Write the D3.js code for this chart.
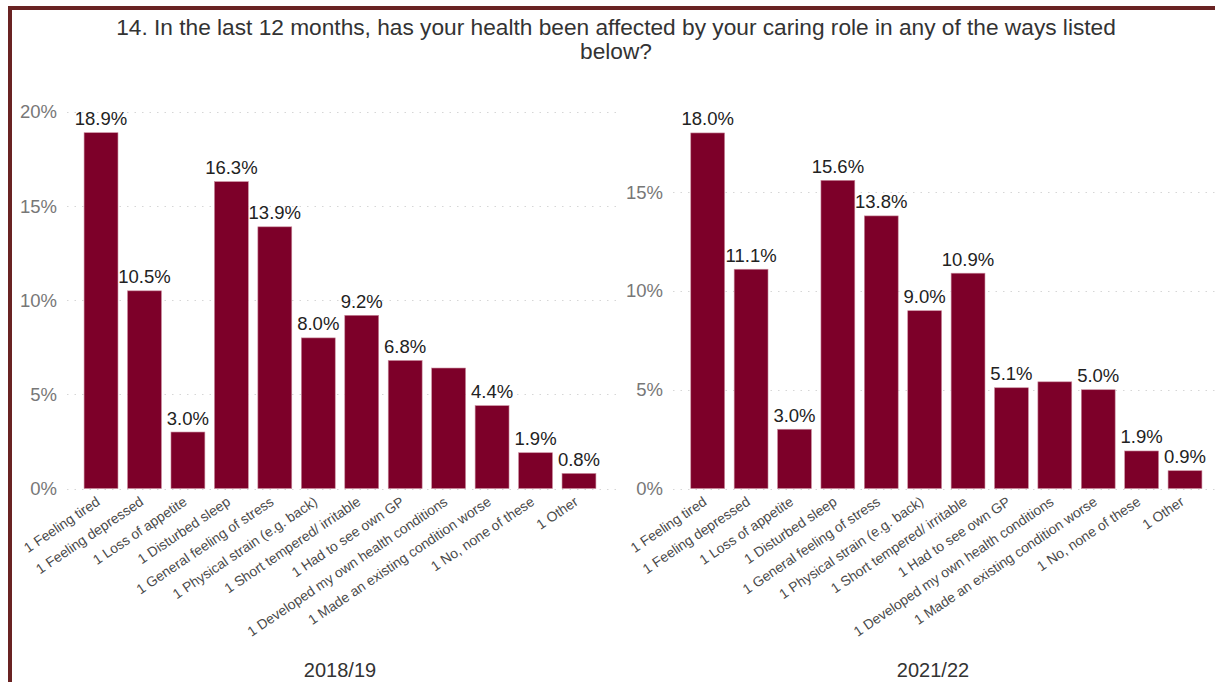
<!DOCTYPE html>
<html>
<head>
<meta charset="utf-8">
<script src="https://cdn.jsdelivr.net/npm/d3@7"></script>
<style>
  html, body { margin: 0; padding: 0; background: #fff; }
  svg { display: block; font-family: "Liberation Sans", Arial, sans-serif; }
</style>
</head>
<body>
<svg id="chart" width="1215" height="682"></svg>
<script>
const categories = [
  "1 Feeling tired",
  "1 Feeling depressed",
  "1 Loss of appetite",
  "1 Disturbed sleep",
  "1 General feeling of stress",
  "1 Physical strain (e.g. back)",
  "1 Short tempered/ irritable",
  "1 Had to see own GP",
  "1 Developed my own health conditions",
  "1 Made an existing condition worse",
  "1 No, none of these",
  "1 Other"
];
const values2018 = [18.9, 10.5, 3.0, 16.3, 13.9, 8.0, 9.2, 6.8, 6.4, 4.4, 1.9, 0.8];
const values2021 = [18.0, 11.1, 3.0, 15.6, 13.8, 9.0, 10.9, 5.1, 5.4, 5.0, 1.9, 0.9];
// data labels shown in the original (one is hidden in each panel)
const showLabel2018 = [true, true, true, true, true, true, true, true, false, true, true, true];
const showLabel2021 = [true, true, true, true, true, true, true, true, false, true, true, true];
const ticks2018 = [0, 5, 10, 15, 20];
const ticks2021 = [0, 5, 10, 15];
const panelTitles = ["2018/19", "2021/22"];
const titleLines = [
  "14. In the last 12 months, has your health been affected by your caring role in any of the ways listed",
  "below?"
];

const svg = d3.select("#chart");
const BAR = "#7d0029";
const BORDER = "#692323";

// border (top + left)
svg.append("rect").attr("x", 8).attr("y", 6).attr("width", 1215 - 8).attr("height", 4).attr("fill", BORDER);
svg.append("rect").attr("x", 8).attr("y", 6).attr("width", 4).attr("height", 682 - 6).attr("fill", BORDER);

// title
svg.append("g").selectAll("text").data(titleLines).join("text")
  .attr("x", 616).attr("y", (d, i) => 35 + i * 24)
  .attr("text-anchor", "middle")
  .attr("font-size", 22.7)
  .attr("fill", "#333")
  .text(d => d);

const panels = [
  { values: values2018, show: showLabel2018, ticks: ticks2018, yMax: 20, x0: 79.3, x1: 600.7,
    gridX0: 67, gridX1: 616, labelX: 57, title: panelTitles[0], titleX: 340 },
  { values: values2021, show: showLabel2021, ticks: ticks2021, yMax: 19.06, x0: 686, x1: 1206.7,
    gridX0: 673, gridX1: 1215, labelX: 663, title: panelTitles[1], titleX: 933 }
];

panels.forEach(p => {
  const g = svg.append("g");
  const x = d3.scaleBand().domain(categories).range([p.x0, p.x1]).paddingInner(0.22).paddingOuter(0.11);
  const y = d3.scaleLinear().domain([0, p.yMax]).range([488.5, 112]);
  const rows = p.values.map((v, i) => ({ cat: categories[i], v: v, show: p.show[i] }));

  // gridlines
  g.append("g").selectAll("line").data(p.ticks).join("line")
    .attr("x1", p.gridX0).attr("x2", p.gridX1)
    .attr("y1", d => Math.round(y(d)) + 0.5).attr("y2", d => Math.round(y(d)) + 0.5)
    .attr("stroke", "#d6d6d6").attr("stroke-width", 1).attr("stroke-dasharray", "1.5,6");

  // y axis labels
  const yAxis = d3.axisLeft(y).tickValues(p.ticks).tickFormat(d => d + "%").tickSize(0).tickPadding(0);
  const ya = g.append("g").attr("transform", `translate(${p.labelX},0)`).call(yAxis);
  ya.select(".domain").remove();
  ya.selectAll("text").attr("font-size", 18.5).attr("fill", "#777")
    .attr("font-family", "'Liberation Sans', Arial, sans-serif");

  // bars
  g.append("g").selectAll("rect").data(rows).join("rect")
    .attr("x", d => x(d.cat))
    .attr("width", x.bandwidth())
    .attr("y", d => y(d.v))
    .attr("height", d => y(0) - y(d.v))
    .attr("fill", BAR)
    .attr("stroke", "#c98a9c").attr("stroke-width", 0.6);

  // value labels
  g.append("g").selectAll("text").data(rows.filter(d => d.show)).join("text")
    .attr("x", d => x(d.cat) + x.bandwidth() / 2)
    .attr("y", d => y(d.v) - 7.5)
    .attr("text-anchor", "middle")
    .attr("font-size", 18.5)
    .attr("fill", "#222")
    .text(d => d.v.toFixed(1) + "%");

  // x axis category labels
  const xAxis = d3.axisBottom(x).tickSize(0).tickPadding(0);
  const xa = g.append("g").attr("transform", "translate(0,504)").call(xAxis);
  xa.select(".domain").remove();
  xa.selectAll("text")
    .attr("y", 0).attr("dy", 0)
    .attr("text-anchor", "end")
    .attr("transform", "rotate(-34)")
    .attr("font-size", 13.9)
    .attr("fill", "#4a4a4a")
    .attr("font-family", "'Liberation Sans', Arial, sans-serif");

  // panel title
  g.append("text").attr("x", p.titleX).attr("y", 677)
    .attr("text-anchor", "middle").attr("font-size", 20).attr("fill", "#333")
    .text(p.title);
});
</script>
</body>
</html>
